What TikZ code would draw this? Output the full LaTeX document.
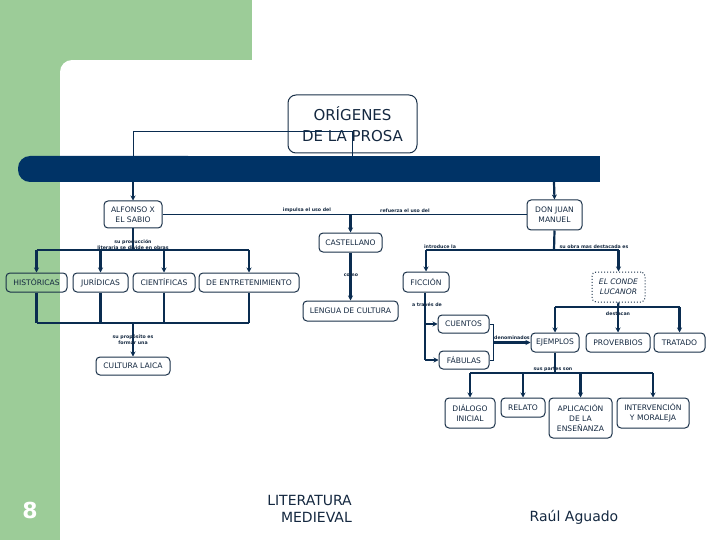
\documentclass[tikz,border=0pt]{standalone}
\usepackage{fontspec}
\setmainfont{DejaVu Sans}
\usetikzlibrary{arrows.meta,calc}
\definecolor{bggreen}{RGB}{156,204,152}
\definecolor{navy}{RGB}{0,51,102}
\definecolor{linec}{RGB}{10,44,80}
\definecolor{boxc}{RGB}{25,48,72}
\definecolor{txtc}{RGB}{20,40,64}
\begin{document}
\begin{tikzpicture}[x=1pt,y=-1pt,
 box/.style={draw=boxc, line width=1pt, rounded corners=4pt, inner sep=0pt, align=center, text=txtc, font=\fontsize{7.6}{10}\selectfont},
 conn/.style={draw=linec, line width=2.2pt},
 thin/.style={draw=linec, line width=0.9pt},
 arr/.style={conn, -{Stealth[length=5pt,width=5pt]}},
 lbl/.style={font=\fontsize{4.7}{6}\selectfont\bfseries, text=txtc, inner sep=0pt, align=center},
 foot/.style={font=\fontsize{14}{17}\selectfont, text=txtc, inner sep=0pt},
]
\useasboundingbox (0,0) rectangle (720,540);
% background
\fill[bggreen] (0,0) rectangle (252,60);
\fill[bggreen] (0,0) rectangle (60,540);
\fill[bggreen] (60,60) rectangle (72,72);
\fill[white] (72,72) circle (12);

% title
\node[box, rounded corners=8pt, minimum width=129pt, minimum height=58pt, font=\fontsize{15}{21}\selectfont] (title) at (352.5,124) {ORÍGENES\\DE LA PROSA};
\coordinate (t1) at (133,131);
\coordinate (t2) at (352,131);
\coordinate (t3) at (352,165);
\draw[thin] (t1) -- (t2) -- (t3);
\draw[thin] (t1) -- (133,165);

% band
\fill[navy, rounded corners=12pt] (18,156) rectangle (200,182);
\fill[navy] (40,156) rectangle (600,182);
\coordinate (bl) at (133,182);
\coordinate (br) at (554,182);

% nodes
\node[box, minimum width=58pt, minimum height=27pt] (alfonso) at (133,214.5) {ALFONSO X\\EL SABIO};
\node[box, minimum width=55pt, minimum height=30pt] (donjuan) at (554.5,215) {DON JUAN\\MANUEL};
\node[box, minimum width=63pt, minimum height=19pt] (castellano) at (350.5,242.5) {CASTELLANO};
\node[box, minimum width=95pt, minimum height=20pt] (lengua) at (350.5,311) {LENGUA DE CULTURA};
\node[box, minimum width=46pt, minimum height=20pt] (ficcion) at (426,282) {FICCIÓN};
\node[box, dotted, minimum width=53pt, minimum height=30pt, font=\fontsize{7.6}{10}\selectfont\itshape] (conde) at (618.5,287) {EL CONDE\\LUCANOR};
\node[box, minimum width=61pt, minimum height=19pt] (hist) at (36.5,282.5) {HISTÓRICAS};
\node[box, minimum width=55pt, minimum height=19pt] (jur) at (100.5,282.5) {JURÍDICAS};
\node[box, minimum width=62pt, minimum height=19pt] (cien) at (164,282.5) {CIENTÍFICAS};
\node[box, minimum width=100pt, minimum height=19pt] (entre) at (249,282.5) {DE ENTRETENIMIENTO};
\node[box, minimum width=74pt, minimum height=18pt] (laica) at (133,366) {CULTURA LAICA};
\node[box, minimum width=51pt, minimum height=18pt] (cuentos) at (463.5,324) {CUENTOS};
\node[box, minimum width=50pt, minimum height=18pt] (fabulas) at (464,360) {FÁBULAS};
\node[box, minimum width=48pt, minimum height=19pt] (ejemplos) at (555,342.5) {EJEMPLOS};
\node[box, minimum width=64pt, minimum height=19pt] (prov) at (618,342.5) {PROVERBIOS};
\node[box, minimum width=51pt, minimum height=19pt] (trat) at (679.5,342.5) {TRATADO};
\node[box, minimum width=50pt, minimum height=30pt] (dial) at (470,413) {DIÁLOGO\\INICIAL};
\node[box, minimum width=44pt, minimum height=19pt] (relato) at (523,407.5) {RELATO};
\node[box, minimum width=63pt, minimum height=40pt] (aplic) at (580.5,418) {APLICACIÓN\\DE LA\\ENSEÑANZA};
\node[box, minimum width=72pt, minimum height=30pt] (interv) at (653,413) {INTERVENCIÓN\\Y MORALEJA};

% band to authors
\draw[arr] (bl) -- (alfonso.north);
\draw[arr] (br) -- (donjuan.north);

% alfonso - don juan
\draw[thin] (alfonso.east) -- (donjuan.west |- alfonso.east);
\coordinate (cj) at (castellano.north |- alfonso.east);
\draw[arr] (cj) -- (castellano.north);
\node[lbl, anchor=south] (l1) at (307,213) {impulsa el uso del};
\node[lbl, anchor=south] (l2) at (405,213) {refuerza el uso del};

% castellano -> lengua
\draw[arr] (castellano.south) -- (castellano.south |- lengua.north);
\node[lbl] (l3) at (351,275) {como};

% alfonso -> obras
\coordinate (a1) at (133,250);
\draw[conn] (alfonso.south) -- (a1);
\draw[conn] (hist.north |- a1) -- (entre.north |- a1);
\draw[arr] (hist.north |- a1) -- (hist.north);
\draw[arr] (jur.north |- a1) -- (jur.north);
\draw[arr] (cien.north |- a1) -- (cien.north);
\draw[arr] (entre.north |- a1) -- (entre.north);
\node[lbl, anchor=south] (l4) at (133,249.5) {su producción\\literaria se divide en obras};

% obras -> cultura laica
\coordinate (a2) at (133,323);
\draw[conn] (hist.south) -- (hist.south |- a2);
\draw[conn] (jur.south) -- (jur.south |- a2);
\draw[conn] (cien.south) -- (cien.south |- a2);
\draw[conn] (entre.south) -- (entre.south |- a2);
\draw[conn] (hist.south |- a2) -- (entre.south |- a2);
\draw[arr] (a2) -- (laica.north);
\node[lbl] (l5) at (133,340) {su propósito es\\formar una};

% don juan -> ficcion, conde
\coordinate (d1) at (554,250);
\draw[conn] (donjuan.south) -- (d1);
\draw[conn] (ficcion.north |- d1) -- (conde.north |- d1);
\draw[arr] (ficcion.north |- d1) -- (ficcion.north);
\draw[arr] (conde.north |- d1) -- (conde.north);
\node[lbl, anchor=south] (l6) at (440,249) {introduce la};
\node[lbl, anchor=south] (l7) at (594,249) {su obra mas destacada es};

% conde -> ejemplos, proverbios, tratado
\coordinate (c1) at (618,307);
\draw[conn] (conde.south) -- (c1);
\draw[conn] (ejemplos.north |- c1) -- (trat.north |- c1);
\draw[arr] (ejemplos.north |- c1) -- (ejemplos.north);
\draw[arr] (prov.north |- c1) -- (prov.north);
\draw[arr] (trat.north |- c1) -- (trat.north);
\node[lbl] (l8) at (618,314) {destacan};

% ficcion -> cuentos, fabulas
\coordinate (f1) at (425,360);
\draw[conn] (ficcion.south -| f1) -- (f1);
\draw[arr] (f1 |- cuentos.west) -- (cuentos.west);
\draw[arr] (f1) -- (fabulas.west);
\node[lbl] (l9) at (427,305) {a través de};

% bracket -> ejemplos
\coordinate (b1) at (493,324);
\coordinate (b2) at (493,360);
\draw[thin] (cuentos.east) -- (b1) -- (b2) -- (fabulas.east);
\draw[arr] (b1 |- ejemplos.west) -- (ejemplos.west);
\node[lbl, anchor=south] (l10) at (512,340) {denominados};

% ejemplos -> partes
\coordinate (e1) at (555,373);
\draw[conn] (ejemplos.south) -- (e1);
\draw[conn] (dial.north |- e1) -- (interv.north |- e1);
\draw[arr] (dial.north |- e1) -- (dial.north);
\draw[arr] (relato.north |- e1) -- (relato.north);
\draw[arr] (aplic.north |- e1) -- (aplic.north);
\draw[arr] (interv.north |- e1) -- (interv.north);
\node[lbl, anchor=south] (l11) at (553,371.5) {sus partes son};

% footer
\node[font=\fontsize{22}{22}\selectfont\bfseries, text=white, inner sep=0pt] (num) at (30,510) {8};
\node[foot, anchor=east] (lit1) at (352,500) {LITERATURA};
\node[foot, anchor=east] (lit2) at (352,517) {MEDIEVAL};
\node[foot] (autor) at (574,517) {Raúl Aguado};
\end{tikzpicture}
\end{document}
